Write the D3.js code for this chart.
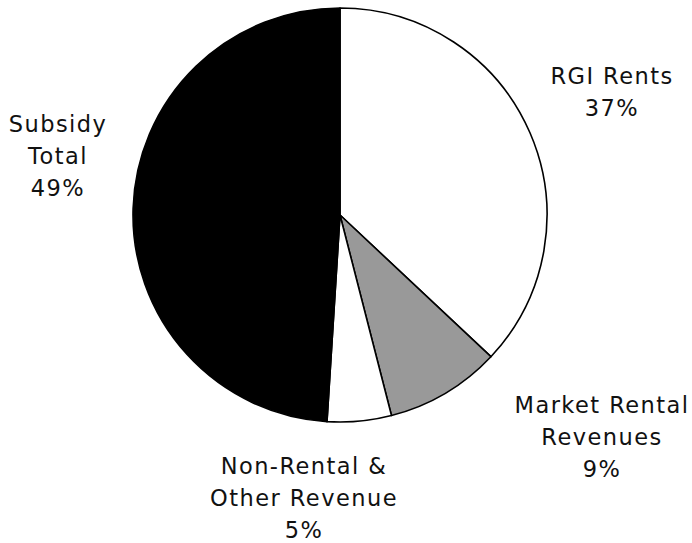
<!DOCTYPE html>
<html>
<head>
<meta charset="utf-8">
<script src="https://cdn.jsdelivr.net/npm/d3@7"></script>
<style>
  html, body { margin: 0; padding: 0; background: #fff; }
  svg text { font-family: "DejaVu Sans", Verdana, sans-serif; font-size: 22.5px; fill: #111; letter-spacing: 1.45px; }
</style>
</head>
<body>
<svg id="chart" width="692" height="543"></svg>
<script>
// Revenue sources, in drawing order clockwise from 12 o'clock
const categories = ["RGI Rents", "Market Rental Revenues", "Non-Rental & Other Revenue", "Subsidy Total"];
const shares = [37, 9, 5, 49];
const labelLines = [
  ["RGI Rents", "37%"],
  ["Market Rental", "Revenues", "9%"],
  ["Non-Rental &", "Other Revenue", "5%"],
  ["Subsidy", "Total", "49%"]
];
const fills = ["#ffffff", "#999999", "#ffffff", "#000000"];

const width = 692, height = 543;
const cx = 340, cy = 215, radius = 207;
const lineHeight = 32;

// Label anchor (centre x, first baseline) for each slice
const labelAnchor = [
  { x: 612, y: 84 },
  { x: 602, y: 413 },
  { x: 304, y: 474 },
  { x: 58, y: 132 }
];

const svg = d3.select("#chart");

const data = categories.map((c, i) => ({ name: c, value: shares[i], lines: labelLines[i], fill: fills[i], anchor: labelAnchor[i] }));

const pie = d3.pie().sort(null).value(d => d.value).startAngle(0).endAngle(2 * Math.PI);
const arc = d3.arc().innerRadius(0).outerRadius(radius);

const g = svg.append("g").attr("transform", `translate(${cx},${cy})`);

g.selectAll("path")
  .data(pie(data))
  .join("path")
  .attr("d", arc)
  .attr("fill", d => d.data.fill)
  .attr("stroke", "#000")
  .attr("stroke-width", 1.6)
  .attr("stroke-linejoin", "round");

const labels = svg.append("g")
  .selectAll("text")
  .data(data)
  .join("text")
  .attr("text-anchor", "middle")
  .attr("x", d => d.anchor.x)
  .attr("y", d => d.anchor.y);

labels.selectAll("tspan")
  .data(d => d.lines.map((t, i) => ({ t, i, x: d.anchor.x })))
  .join("tspan")
  .attr("x", d => d.x)
  .attr("dy", d => d.i === 0 ? 0 : lineHeight)
  .text(d => d.t);
</script>
</body>
</html>
